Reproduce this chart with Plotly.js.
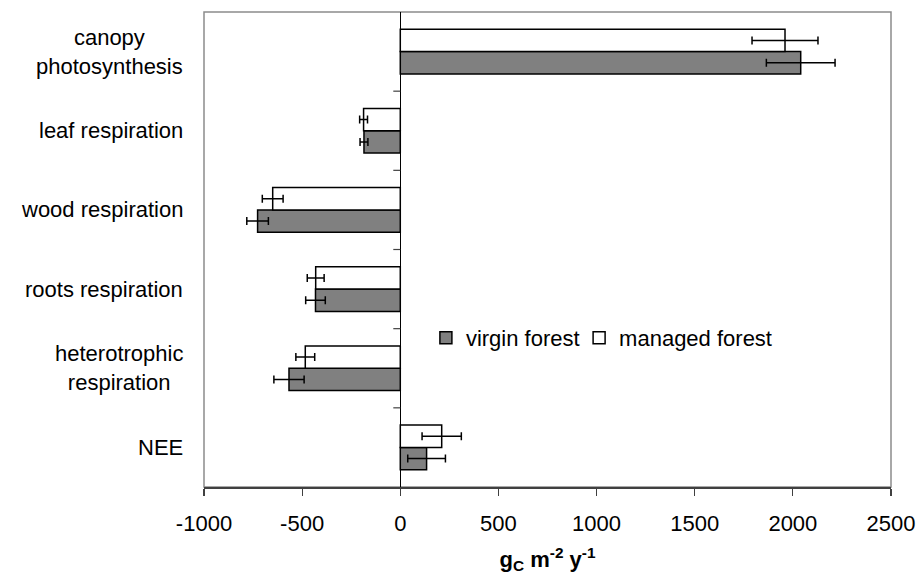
<!DOCTYPE html>
<html>
<head>
<meta charset="utf-8">
<script src="https://cdn.plot.ly/plotly-3.0.1.min.js"></script>
<style>html,body{margin:0;padding:0;background:#fff;}#chart{width:920px;height:582px;}</style>
</head>
<body>
<div id="chart"></div>
<script>
// Categories, top to bottom as in the reference
const categories = ["canopy<br>photosynthesis", "leaf respiration", "wood respiration", "roots respiration", "heterotrophic<br>respiration", "NEE"];
const virginValues = [2040, -185, -727, -432, -567, 134];
const virginErrors = [175, 20, 55, 50, 77, 96];
const managedValues = [1960, -187, -650, -431, -484, 211];
const managedErrors = [168, 20, 53, 43, 48, 100];
const seriesNames = ["virgin forest", "managed forest"];
const xTickValues = [-1000, -500, 0, 500, 1000, 1500, 2000, 2500];

const FONT = "Liberation Sans, Arial, sans-serif";
const catOrder = categories.slice().reverse(); // bottom to top

const traces = [
  {
    type: "bar", orientation: "h", name: seriesNames[0], legend: "legend",
    y: categories, x: virginValues,
    marker: {color: "#808080", line: {color: "#000", width: 1.5}},
    error_x: {type: "data", array: virginErrors, visible: true, color: "#000", thickness: 1.5, width: 4}
  },
  {
    type: "bar", orientation: "h", name: seriesNames[1], legend: "legend2",
    y: categories, x: managedValues,
    marker: {color: "#ffffff", line: {color: "#000", width: 1.5}},
    error_x: {type: "data", array: managedErrors, visible: true, color: "#000", thickness: 1.5, width: 4}
  }
];

const shapes = [
  {type: "rect", xref: "paper", yref: "paper", x0: 0, x1: 1, y0: 0, y1: 1,
   line: {color: "#8c8c8c", width: 1.5}, layer: "below"}
];
for (let i = 0; i < catOrder.length - 1; i++) {
  shapes.push({type: "line", xref: "x", yref: "y", xsizemode: "pixel", xanchor: 0,
    x0: -7, x1: 0, y0: i + 0.5, y1: i + 0.5, line: {color: "#404040", width: 1.2}});
}

const annotations = categories.map(c => ({
  xref: "paper", yref: "y", x: 0, y: c, xanchor: "right", yanchor: "middle",
  xshift: -19, align: "center", showarrow: false, text: c,
  font: {family: FONT, size: 22, color: "#000"}
}));

const legendBase = {
  orientation: "h", xanchor: "left", y: 0.314, yanchor: "middle",
  bgcolor: "rgba(0,0,0,0)", borderwidth: 0,
  font: {family: FONT, size: 22, color: "#000"}
};

const layout = {
  width: 920, height: 582,
  margin: {l: 204, r: 29, t: 12, b: 95},
  paper_bgcolor: "#fff", plot_bgcolor: "#fff",
  barmode: "group", bargap: 0.435, bargroupgap: 0,
  font: {family: FONT, size: 22, color: "#000"},
  xaxis: {
    range: [-1000, 2500], tickvals: xTickValues, ticktext: xTickValues.map(String),
    ticks: "outside", ticklen: 7, tickwidth: 1.2, tickcolor: "#404040",
    showline: true, linecolor: "#404040", linewidth: 2,
    showgrid: false, zeroline: true, zerolinecolor: "#000", zerolinewidth: 1.5,
    ticklabelstandoff: 9, automargin: false,
    tickfont: {family: FONT, size: 22, color: "#000"},
    title: {text: "<b>g<sub>C</sub> m<sup>-2</sup> y<sup>-1</sup></b>", font: {family: FONT, size: 22, color: "#000"}, standoff: 16}
  },
  yaxis: {
    type: "category", categoryorder: "array", categoryarray: catOrder,
    range: [-0.5, catOrder.length - 0.5],
    showticklabels: false, ticks: "", showgrid: false, zeroline: false, showline: false
  },
  showlegend: true,
  legend: Object.assign({}, legendBase, {x: 0.323}),
  legend2: Object.assign({}, legendBase, {x: 0.546}),
  shapes: shapes,
  annotations: annotations
};

Plotly.newPlot("chart", traces, layout, {staticPlot: true, displayModeBar: false});
</script>
</body>
</html>
